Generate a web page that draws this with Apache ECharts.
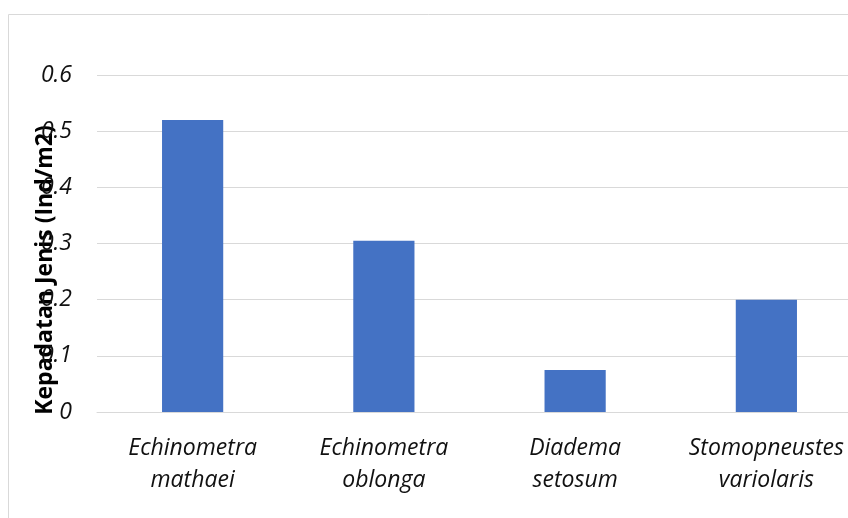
<!DOCTYPE html>
<html><head><meta charset="utf-8">
<script src="https://cdn.jsdelivr.net/npm/echarts@6/dist/echarts.min.js"></script>
<style>html,body{margin:0;padding:0;background:#fff}#c{width:848px;height:518px}</style>
</head><body><div id="c"></div>
<script>
const categories = ['Echinometra\nmathaei', 'Echinometra\noblonga', 'Diadema\nsetosum', 'Stomopneustes\nvariolaris'];
const values = [0.52, 0.305, 0.075, 0.2];
const yTitle = 'Kepadatan Jenis (Ind/m2)';

const chart = echarts.init(document.getElementById('c'));
const FONT = '"Open Sans"';
chart.setOption({
  animation: false,
  graphic: [
    { type: 'rect', shape: { x: 8.5, y: 14.5, width: 900, height: 600 }, style: { fill: 'none', stroke: '#d9d9d9', lineWidth: 1 }, z: -1 },
    { type: 'text', x: 45, y: 270, rotation: Math.PI / 2,
      style: { text: yTitle, font: 'bold 23px "Open Sans"', fill: '#000', align: 'center', verticalAlign: 'middle' } }
  ],
  grid: { left: 97, right: -14, top: 75, bottom: 106, outerBoundsMode: 'none' },
  xAxis: {
    type: 'category', data: categories,
    axisLine: { show: true, lineStyle: { color: '#d9d9d9', width: 1 } },
    axisTick: { show: false },
    axisLabel: { fontFamily: FONT, fontStyle: 'italic', fontSize: 23, color: '#111', lineHeight: 32, margin: 20, interval: 0 }
  },
  yAxis: {
    type: 'value', min: 0, max: 0.6, interval: 0.1,
    axisLine: { show: false }, axisTick: { show: false },
    splitLine: { lineStyle: { color: '#d9d9d9', width: 1 } },
    axisLabel: { fontFamily: FONT, fontStyle: 'italic', fontSize: 23, color: '#111', margin: 25,
      formatter: v => v === 0 ? '0' : (Math.round(v * 10) / 10).toString() }
  },
  series: [{ type: 'bar', data: values, barWidth: '32%', itemStyle: { color: '#4472c4' } }]
});
</script></body></html>
